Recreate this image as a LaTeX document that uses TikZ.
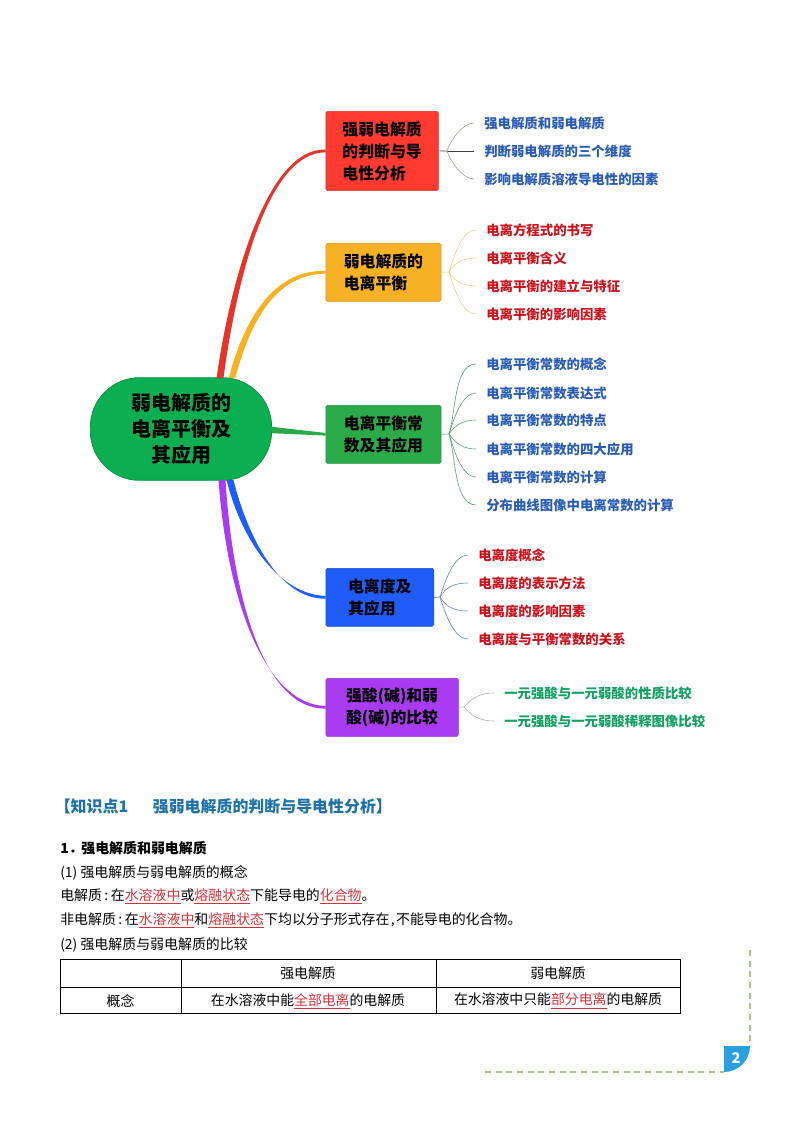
\documentclass[tikz,border=0pt]{standalone}
\usepackage{fontspec}
\usepackage{xcolor}
\setmainfont{Noto Sans CJK SC}
\definecolor{rootgreen}{HTML}{0BAE50}
\definecolor{boxred}{HTML}{FF3B30}
\definecolor{boxorange}{HTML}{F7B125}
\definecolor{boxgreen}{HTML}{2BAA4A}
\definecolor{boxblue}{HTML}{1F5CFA}
\definecolor{boxpurple}{HTML}{A93BF0}
\definecolor{leafblue}{HTML}{2A5CB4}
\definecolor{leafred}{HTML}{C9141E}
\definecolor{leafgreen}{HTML}{14A062}
\definecolor{headblue}{HTML}{1F72A8}
\definecolor{keyred}{HTML}{D2333B}
\definecolor{pagegreen}{HTML}{A9C77B}
\definecolor{pageblue}{HTML}{2AA0E0}
\definecolor{twigbrown}{HTML}{B39A8E}
\definecolor{twigsand}{HTML}{E6CF8E}
\definecolor{twiggreen}{HTML}{5B9A70}
\definecolor{twigblue}{HTML}{6A86A6}
\definecolor{twigviolet}{HTML}{B9A6C8}
\newcommand{\redmark}[1]{\textcolor{keyred}{\underline{#1}}}
\tikzset{
  rootnode/.style={draw=rootgreen!85!black,fill=rootgreen,line width=0.6pt,rounded corners=37pt,
    minimum width=136pt,minimum height=77pt,align=center,inner sep=0pt,
    font=\fontsize{15}{19.5}\selectfont\bfseries},
  topicbox/.style={rounded corners=1.2pt,line width=0.4pt,anchor=north west,inner xsep=12.5pt,inner ysep=0pt,
    align=left,font=\fontsize{11.9}{16.5}\selectfont\bfseries},
  leaf/.style={anchor=west,inner xsep=7.5pt,inner ysep=1pt,font=\fontsize{10.05}{12}\selectfont\bfseries},
  twig/.style={line width=0.45pt},
  tup/.style={out=72,in=180,looseness=0.75},
  tdown/.style={out=-72,in=180,looseness=0.75},
  textline/.style={anchor=west,inner sep=0pt,font=\fontsize{10.45}{12}\selectfont},
  cell/.style={inner sep=0pt,font=\fontsize{10.4}{12}\selectfont},
}
\begin{document}
\begin{tikzpicture}[x=0.75pt,y=-0.75pt]
\useasboundingbox (0,0) rectangle (794,1122);
% centre of the map
\node[rootnode] (root) at (181,429) {弱电解质的\\电离平衡及\\其应用};
% topic boxes
\node[topicbox,draw=boxred!85!black,fill=boxred,minimum width=84.5pt,minimum height=59.5pt] (topicA) at (325.5,111) {强弱电解质\\的判断与导\\电性分析};
\node[topicbox,draw=boxorange!85!black,fill=boxorange,minimum width=86.5pt,minimum height=43.5pt] (topicB) at (325.5,243) {弱电解质的\\电离平衡};
\node[topicbox,draw=boxgreen!85!black,fill=boxgreen,minimum width=86.5pt,minimum height=43.5pt] (topicC) at (325.5,405) {电离平衡常\\数及其应用};
\node[topicbox,draw=boxblue!85!black,fill=boxblue,minimum width=81pt,minimum height=43.5pt] (topicD) at (325.5,568) {电离度及\\其应用};
\node[topicbox,draw=boxpurple!85!black,fill=boxpurple,minimum width=99.5pt,minimum height=43.5pt] (topicE) at (325.5,678) {强酸(碱)和弱\\酸(碱)的比较};
% limbs, thick at the root and thin at the box
\coordinate (rootA) at (220,378);
\coordinate (rootB) at (232,378);
\coordinate (rootC) at (272,430);
\coordinate (rootD) at (230,480);
\coordinate (rootE) at (222,480);
\fill[boxred!90!black] ([xshift=-2.6pt]rootA) .. controls (232,270) and (270,147.5) .. ([yshift=1pt]topicA.west)
  -- ([yshift=-1pt]topicA.west) .. controls (270,152.5) and (238,270) .. ([xshift=2.6pt]rootA) -- cycle;
\fill[boxorange] ([xshift=-2.4pt]rootB) .. controls (247,308) and (280,269.5) .. ([yshift=1pt]topicB.west)
  -- ([yshift=-1pt]topicB.west) .. controls (280,274.5) and (253,312) .. ([xshift=2.4pt]rootB) -- cycle;
\fill[boxgreen] ([yshift=2.4pt]rootC) -- ([yshift=1pt]topicC.west) -- ([yshift=-1pt]topicC.west) -- ([yshift=-2.4pt]rootC) -- cycle;
\fill[boxblue] ([xshift=-2.6pt]rootD) .. controls (242,542) and (280,594.5) .. ([yshift=1pt]topicD.west)
  -- ([yshift=-1pt]topicD.west) .. controls (280,599.5) and (248,538) .. ([xshift=2.6pt]rootD) -- cycle;
\fill[boxpurple] ([xshift=-2.6pt]rootE) .. controls (227,600) and (265,704.5) .. ([yshift=1pt]topicE.west)
  -- ([yshift=-1pt]topicE.west) .. controls (265,709.5) and (233,600) .. ([xshift=2.6pt]rootE) -- cycle;
% forks
\coordinate (forkA) at (447,151);
\coordinate (forkB) at (449,272);
\coordinate (forkC) at (449,434);
\coordinate (forkD) at (440,597);
\coordinate (forkE) at (464,707);
% leaves of A
\node[leaf,text=leafblue] (a1) at (474,123) {强电解质和弱电解质};
\node[leaf,text=leafblue] (a2) at (474,151) {判断弱电解质的三个维度};
\node[leaf,text=leafblue] (a3) at (474,179) {影响电解质溶液导电性的因素};
\draw[twig,draw=black!70] (topicA.east) -- (forkA);
\draw[twig,draw=twigbrown] (forkA) to[tup] (a1.west);
\draw[twig,draw=black!75] (forkA) -- (a2.west);
\draw[twig,draw=twigbrown] (forkA) to[tdown] (a3.west);
% leaves of B
\node[leaf,text=leafred] (b1) at (476,230) {电离方程式的书写};
\node[leaf,text=leafred] (b2) at (476,258) {电离平衡含义};
\node[leaf,text=leafred] (b3) at (476,286) {电离平衡的建立与特征};
\node[leaf,text=leafred] (b4) at (476,314) {电离平衡的影响因素};
\draw[twig,draw=twigsand] (topicB.east) -- (forkB);
\draw[twig,draw=twigsand] (forkB) to[tup] (b1.west);
\draw[twig,draw=twigsand] (forkB) to[out=60,in=180] (b2.west);
\draw[twig,draw=twigsand] (forkB) to[out=-60,in=180] (b3.west);
\draw[twig,draw=twigsand] (forkB) to[tdown] (b4.west);
% leaves of C
\node[leaf,text=leafblue] (c1) at (476,364) {电离平衡常数的概念};
\node[leaf,text=leafblue] (c2) at (476,393) {电离平衡常数表达式};
\node[leaf,text=leafblue] (c3) at (476,420) {电离平衡常数的特点};
\node[leaf,text=leafblue] (c4) at (476,449) {电离平衡常数的四大应用};
\node[leaf,text=leafblue] (c5) at (476,477) {电离平衡常数的计算};
\node[leaf,text=leafblue] (c6) at (476,505) {分布曲线图像中电离常数的计算};
\draw[twig,draw=twiggreen] (topicC.east) -- (forkC);
\draw[twig,draw=twiggreen] (forkC) to[tup] (c1.west);
\draw[twig,draw=twiggreen] (forkC) to[tup] (c2.west);
\draw[twig,draw=twiggreen] (forkC) to[out=55,in=180] (c3.west);
\draw[twig,draw=twiggreen] (forkC) to[out=-55,in=180] (c4.west);
\draw[twig,draw=twiggreen] (forkC) to[tdown] (c5.west);
\draw[twig,draw=twiggreen] (forkC) to[tdown] (c6.west);
% leaves of D
\node[leaf,text=leafred] (d1) at (468,555) {电离度概念};
\node[leaf,text=leafred] (d2) at (468,583) {电离度的表示方法};
\node[leaf,text=leafred] (d3) at (468,611) {电离度的影响因素};
\node[leaf,text=leafred] (d4) at (468,639) {电离度与平衡常数的关系};
\draw[twig,draw=black!70] (topicD.east) -- (forkD);
\draw[twig,draw=twigblue] (forkD) to[tup] (d1.west);
\draw[twig,draw=twigblue] (forkD) to[out=60,in=180] (d2.west);
\draw[twig,draw=twigblue] (forkD) to[out=-60,in=180] (d3.west);
\draw[twig,draw=twigblue] (forkD) to[tdown] (d4.west);
% leaves of E
\node[leaf,text=leafgreen] (e1) at (494,693) {一元强酸与一元弱酸的性质比较};
\node[leaf,text=leafgreen] (e2) at (494,721) {一元强酸与一元弱酸稀释图像比较};
\draw[twig,draw=twigviolet] (topicE.east) -- (forkE);
\draw[twig,draw=twigviolet] (forkE) to[out=50,in=180] (e1.west);
\draw[twig,draw=twigviolet] (forkE) to[out=-50,in=180] (e2.west);
% text below the map
\node[textline,text=headblue,font=\fontsize{11.95}{12}\selectfont\bfseries] (title) at (54.5,806) {【知识点1\hspace{18.5pt}强弱电解质的判断与导电性分析】};
\node[textline,font=\fontsize{10.45}{12}\selectfont\bfseries] (line1) at (60,848.5) {1．\hspace{-1pt}强电解质和弱电解质};
\node[textline] (line2) at (60,872.5) {(1) 强电解质与弱电解质的概念};
\node[textline] (line3) at (60,896.5) {电解质\hspace{1.8pt}:\hspace{1.9pt}在\redmark{水溶液中}或\redmark{熔融状态}下能导电的\redmark{化合物}。};
\node[textline] (line4) at (60,920.5) {非电解质\hspace{1.8pt}:\hspace{1.9pt}在\redmark{水溶液中}和\redmark{熔融状态}下均以分子形式存在\hspace{1pt},\hspace{1pt}不能导电的化合物。};
\node[textline] (line5) at (60,944.5) {(2) 强电解质与弱电解质的比较};
% table
\draw[line width=0.6pt] (60,959) rectangle (680,1013);
\draw[line width=0.6pt] (60,987) -- (680,987);
\draw[line width=0.6pt] (181,959) -- (181,1013);
\draw[line width=0.6pt] (436,959) -- (436,1013);
\node[cell] (headStrong) at (308,973) {强电解质};
\node[cell] (headWeak) at (558,973) {弱电解质};
\node[cell] (rowName) at (120.5,1001) {概念};
\node[cell] (cellStrong) at (308,1001) {在水溶液中能\redmark{全部电离}的电解质};
\node[cell] (cellWeak) at (558,1001) {在水溶液中只能\redmark{部分电离}的电解质};
% page corner
\draw[pagegreen,line width=0.8pt,dash pattern=on 4.5pt off 3.5pt] (750,950) -- (750,1046);
\draw[pagegreen,line width=0.8pt,dash pattern=on 4.5pt off 3.5pt] (485,1072) -- (724,1072);
\fill[pageblue] (724,1046) -- (750,1046) arc[start angle=0,end angle=-90,radius=19.5pt] -- cycle;
\node[text=white,inner sep=0pt,font=\fontsize{11}{12}\selectfont\bfseries] (pageno) at (736,1058) {2};
\end{tikzpicture}
\end{document}
